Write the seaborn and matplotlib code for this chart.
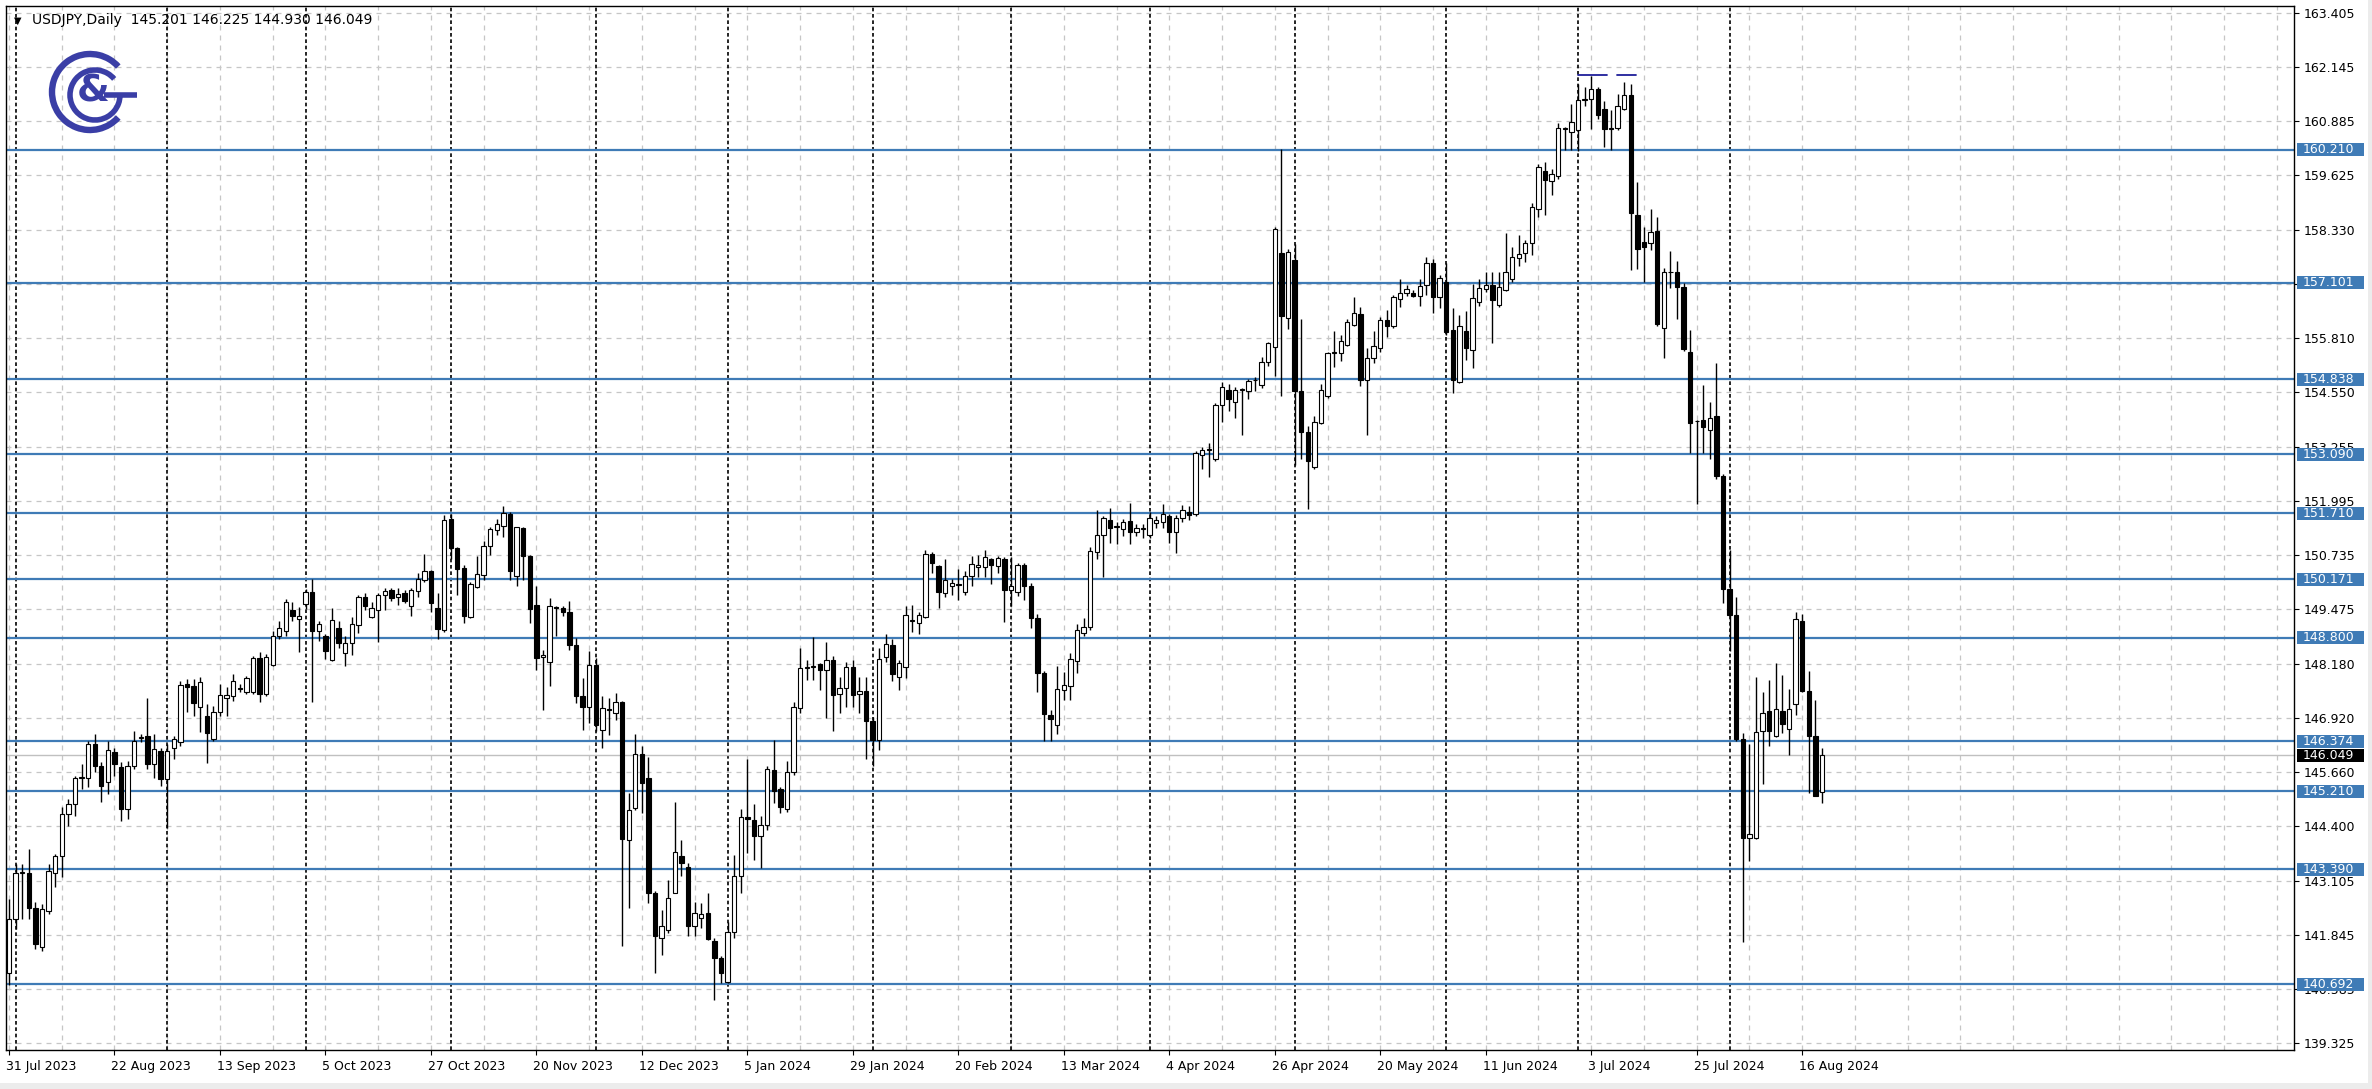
import numpy as np
import pandas as pd
import matplotlib
matplotlib.use("Agg")
import matplotlib.pyplot as plt
import seaborn as sns
from matplotlib.patches import Arc, Rectangle
from matplotlib.transforms import blended_transform_factory, ScaledTranslation

# ---------------- data (USDJPY daily, 31 Jul 2023 .. 21 Aug 2024) ----------------
opens = [140.97,142.22,143.31,143.31,142.49,141.56,142.42,143.31,143.70,144.68,144.91,145.53,145.53,146.31,145.81,145.43,146.12,145.77,144.79,145.81,
146.45,146.51,145.85,146.16,145.49,146.23,146.35,147.72,147.66,147.19,146.98,146.43,147.07,147.38,147.44,147.62,147.54,147.54,148.32,147.48,
148.16,148.83,148.96,149.45,149.24,149.59,149.86,148.96,148.83,148.28,149.02,148.44,148.67,149.10,149.76,149.28,149.45,149.80,149.92,149.75,
149.84,149.53,149.90,150.15,150.35,149.49,148.98,151.57,150.89,150.42,149.29,149.99,150.27,150.95,151.32,151.41,151.70,150.25,151.36,150.70,
149.57,148.36,148.24,149.52,149.49,149.41,148.63,147.43,147.19,148.16,146.65,147.14,147.05,147.29,144.06,144.82,146.09,145.52,142.83,141.78,
141.97,142.84,143.70,143.45,142.05,142.25,142.36,141.70,141.31,140.76,141.93,143.23,144.60,144.53,144.17,144.43,145.71,145.26,144.79,145.65,
147.15,148.09,148.12,148.19,148.05,148.28,147.49,147.62,148.11,147.49,147.56,146.86,146.40,148.36,148.63,147.89,148.12,149.20,149.15,149.28,
150.76,150.48,149.84,150.01,150.05,149.88,150.25,150.45,150.45,150.63,150.47,150.64,149.92,149.88,150.50,150.02,149.26,147.97,146.99,146.75,
147.57,147.68,148.25,148.92,149.04,150.81,151.21,151.55,151.40,151.33,151.52,151.26,151.35,151.21,151.48,151.50,151.65,151.26,151.60,151.74,
151.69,153.08,153.20,152.98,154.25,154.60,154.32,154.58,154.56,154.82,154.70,155.24,155.59,157.80,156.28,157.63,154.56,153.60,152.79,153.81,
154.44,155.45,155.45,155.65,156.11,156.37,154.83,155.34,155.57,156.22,156.09,156.71,156.87,156.85,156.79,157.05,157.57,156.77,157.12,156.00,
154.79,155.98,155.53,156.64,156.95,157.05,156.58,156.94,157.18,157.67,157.79,158.03,158.83,159.71,159.48,159.59,160.70,160.62,160.66,161.38,
161.40,161.63,161.17,160.70,160.72,161.17,161.50,158.68,158.05,158.02,158.30,156.04,157.36,157.34,156.99,155.48,153.87,153.90,153.65,153.99,
152.57,149.94,149.32,146.42,144.12,144.12,146.63,147.09,146.51,147.09,146.67,147.25,149.19,147.56,146.51,145.201]
highs = [142.69,143.51,143.51,143.87,142.61,142.57,143.51,143.74,144.83,145.03,145.57,145.85,146.39,146.55,145.89,146.39,146.23,145.89,145.92,146.62,
146.55,147.40,146.55,146.23,146.31,146.51,147.79,147.83,147.83,147.87,147.25,147.21,147.72,147.64,147.95,147.72,147.91,148.38,148.46,148.42,
148.96,149.20,149.70,149.64,149.51,149.94,150.17,149.20,148.89,149.50,149.18,148.83,149.29,149.80,149.84,149.64,149.84,149.96,149.96,149.96,
149.92,149.96,150.31,150.76,150.39,149.84,151.67,151.69,150.93,150.50,150.11,150.70,151.05,151.38,151.57,151.87,151.75,151.40,151.40,150.74,
150.00,148.52,149.72,149.54,149.53,149.65,148.79,147.85,148.48,148.32,147.43,147.39,147.50,147.31,145.17,146.55,146.26,146.02,142.87,142.44,
143.14,144.97,144.08,143.53,142.61,142.60,142.83,141.78,141.35,142.16,143.72,144.80,145.96,144.92,144.62,145.80,146.40,145.32,145.91,147.29,
148.55,148.28,148.81,148.21,148.69,148.37,147.89,148.24,148.28,147.89,147.89,146.95,148.55,148.88,148.77,148.28,149.53,149.57,149.39,150.86,
150.81,150.50,150.63,150.17,150.40,150.37,150.72,150.74,150.84,150.66,150.72,150.69,150.69,150.55,150.55,150.07,149.35,148.02,147.12,148.14,
147.99,148.45,149.11,149.26,150.93,151.79,151.64,151.84,151.50,151.58,151.96,151.45,151.45,151.74,151.64,151.93,151.69,151.67,151.90,151.88,
153.17,153.27,153.36,154.29,154.77,154.73,154.67,154.63,154.86,154.89,155.37,155.72,158.41,160.23,157.90,158.01,156.26,153.74,153.98,154.73,
155.49,155.96,155.88,156.25,156.77,156.54,155.57,155.96,156.31,156.46,156.81,157.18,157.05,156.93,157.18,157.71,157.65,157.28,157.55,156.50,
156.35,156.43,157.07,157.18,157.36,157.34,157.34,158.27,157.93,158.21,158.11,158.97,159.87,159.92,159.77,160.83,160.75,161.28,161.75,161.67,
161.94,161.67,161.36,161.13,161.51,161.79,161.75,159.45,158.41,158.83,158.64,157.44,157.83,157.61,157.09,156.00,153.90,154.71,154.31,155.23,
152.63,150.84,149.76,146.57,146.32,147.87,147.54,147.81,148.20,147.93,147.59,149.39,149.35,148.03,147.34,146.225]
lows = [140.69,141.99,142.22,142.22,141.52,141.48,142.34,142.96,143.20,144.40,144.64,145.26,145.30,145.65,144.95,145.14,145.57,144.52,144.56,145.73,
146.35,145.73,145.53,145.34,144.36,145.96,146.27,147.07,146.98,146.59,145.87,146.39,146.98,146.98,147.33,147.52,147.48,147.48,147.29,147.44,
148.13,148.77,148.83,149.20,148.47,149.47,147.29,148.73,148.30,148.25,148.55,148.13,148.40,148.91,149.45,149.26,148.71,149.45,149.65,149.57,
149.61,149.30,149.76,150.11,149.41,148.77,148.94,150.63,149.80,149.14,149.26,149.96,150.15,150.74,151.20,151.16,150.15,150.01,150.15,149.14,
148.05,147.11,147.66,148.83,149.30,148.52,147.27,146.65,146.80,146.61,146.22,146.53,146.88,141.58,142.48,144.78,144.70,142.60,140.96,141.39,
141.89,142.83,143.22,141.82,141.82,142.01,141.74,140.34,140.73,140.73,141.78,142.83,143.76,143.61,143.41,144.30,144.93,144.70,144.73,145.59,
147.04,147.81,147.81,147.58,146.92,146.63,147.04,147.19,147.19,147.04,145.96,145.81,146.18,148.24,147.78,147.58,147.85,148.94,148.89,149.26,
150.31,149.49,149.76,149.80,149.68,149.80,150.00,150.23,150.23,150.06,150.31,149.16,149.54,149.78,149.69,149.02,147.54,146.39,146.39,146.56,
147.35,147.35,147.97,148.83,148.97,150.64,150.21,151.02,150.98,151.17,150.98,151.17,151.12,151.12,151.36,151.36,151.02,150.78,151.50,151.55,
151.64,152.74,152.55,152.93,153.84,154.10,153.94,153.55,154.37,154.56,154.65,155.15,154.92,154.46,156.01,152.84,152.98,151.81,152.74,153.79,
154.41,155.14,155.26,155.61,156.08,154.68,153.55,155.22,155.49,155.83,156.04,156.53,156.79,156.76,156.56,156.81,156.39,156.50,155.88,154.52,
154.75,155.30,155.11,156.56,156.89,155.70,156.53,156.91,157.12,157.48,157.59,157.75,158.64,158.68,159.15,159.53,160.21,160.21,160.19,161.24,
160.70,160.93,160.27,160.21,160.68,161.13,157.40,157.41,157.12,157.86,156.08,155.33,156.97,156.25,155.51,153.11,151.92,153.11,152.98,152.50,
149.60,148.49,146.38,141.68,143.57,144.10,145.39,146.26,146.47,146.57,146.05,147.00,147.53,145.18,145.09,144.930]
closes = [142.22,143.31,143.33,142.49,141.64,142.45,143.35,143.70,144.68,144.91,145.53,145.55,146.31,145.81,145.34,146.18,145.85,144.79,145.81,146.39,
146.47,145.85,146.20,145.49,146.16,146.43,147.69,147.64,147.27,147.77,146.57,147.07,147.46,147.46,147.79,147.60,147.85,148.32,147.48,148.36,
148.83,149.02,149.63,149.31,149.30,149.86,148.96,149.12,148.50,149.22,148.67,148.67,149.12,149.76,149.53,149.49,149.80,149.89,149.72,149.83,
149.65,149.92,150.17,150.37,149.61,149.00,151.55,150.89,150.40,149.31,150.06,150.28,150.95,151.34,151.46,151.71,150.37,151.38,150.70,149.47,
148.32,148.40,149.53,149.50,149.39,148.63,147.43,147.19,148.16,146.76,147.15,147.10,147.29,144.09,144.78,146.09,145.40,142.83,141.82,142.05,
142.71,143.78,143.53,142.05,142.36,142.35,141.75,141.31,140.96,141.93,143.23,144.60,144.55,144.17,144.43,145.73,145.21,144.84,145.67,147.17,
148.09,148.12,148.13,148.05,148.28,147.47,147.62,148.11,147.47,147.56,146.86,146.40,148.30,148.66,147.95,148.22,149.33,149.22,149.33,150.76,
150.54,149.88,150.14,150.09,150.03,150.25,150.53,150.51,150.68,150.50,150.66,149.92,150.02,150.50,150.02,149.26,147.97,147.01,146.90,147.59,
147.70,148.30,148.97,149.04,150.83,151.21,151.60,151.36,151.41,151.50,151.26,151.36,151.36,151.60,151.55,151.69,151.26,151.60,151.79,151.67,
153.12,153.20,153.22,154.25,154.67,154.37,154.60,154.61,154.80,154.83,155.24,155.68,158.36,156.32,157.82,154.56,153.60,152.93,153.84,154.60,
155.45,155.47,155.73,156.19,156.39,154.83,155.34,155.62,156.22,156.09,156.76,156.87,156.95,156.80,157.02,157.57,156.76,157.20,155.94,154.83,
156.08,155.57,156.74,156.97,157.05,156.70,156.99,157.36,157.69,157.77,158.03,158.86,159.81,159.49,159.64,160.72,160.72,160.85,161.37,161.40,
161.63,161.01,160.70,160.72,161.24,161.50,158.73,157.88,157.94,158.29,156.13,157.36,157.35,156.99,155.54,153.81,153.86,153.72,153.93,152.57,
149.94,149.32,146.42,144.12,144.21,146.60,147.04,146.63,147.13,146.79,147.13,149.23,147.56,146.51,145.11,146.049]

date_labels = ["31 Jul 2023", "22 Aug 2023", "13 Sep 2023", "5 Oct 2023", "27 Oct 2023", "20 Nov 2023",
               "12 Dec 2023", "5 Jan 2024", "29 Jan 2024", "20 Feb 2024", "13 Mar 2024", "4 Apr 2024",
               "26 Apr 2024", "20 May 2024", "11 Jun 2024", "3 Jul 2024", "25 Jul 2024", "16 Aug 2024"]
date_label_bars = [0, 16, 32, 48, 64, 80, 96, 112, 128, 144, 160, 176, 192, 208, 224, 240, 256, 272]
month_start_bars = [1, 24, 45, 67, 89, 109, 131, 152, 173, 195, 218, 238, 261]
price_ticks = [163.405, 162.145, 160.885, 159.625, 158.330, 157.070, 155.810, 154.550, 153.255, 151.995,
               150.735, 149.475, 148.180, 146.920, 145.660, 144.400, 143.105, 141.845, 140.585, 139.325]
levels = [160.210, 157.101, 154.838, 153.090, 151.710, 150.171, 148.800, 146.374, 145.210, 143.390, 140.692]
top_marks = [(238, 242.4, 161.95), (243.9, 246.8, 161.95)]
last_price = 146.049
header = "USDJPY,Daily  145.201 146.225 144.930 146.049"

# ---------------- figure ----------------
sns.set_theme(style="white")
plt.rcParams['font.family'] = ['DejaVu Sans']

W, H = 2372, 1089
fig = plt.figure(figsize=(W / 100, H / 100), dpi=100)
fig.patch.set_facecolor("white")

L, R, T, B = 6, 2294, 6, 1050
ax = fig.add_axes([L / W, 1 - B / H, (R - L) / W, (B - T) / H])
ax.set_facecolor("white")

df = pd.DataFrame({"open": opens, "high": highs, "low": lows, "close": closes})
df["bar"] = np.arange(len(df))
df["up"] = df["close"] >= df["open"]
df["bottom"] = df[["open", "close"]].min(axis=1)
df["height"] = (df["close"] - df["open"]).abs().clip(lower=0.012)

y_lo, y_hi = 139.16, 163.57
x_lo, x_hi = -0.455, 346.6
ax.set_xlim(x_lo, x_hi)
ax.set_ylim(y_lo, y_hi)

grid_c = "#c6c6c6"
for p in price_ticks:
    ax.axhline(p, color=grid_c, lw=0.9, ls=(0, (4, 4)), zorder=0.5)
for b in range(0, 347, 8):
    ax.axvline(b, color=grid_c, lw=0.9, ls=(0, (4, 4)), zorder=0.5)
for b in month_start_bars:
    ax.axvline(b, color="black", lw=1.2, ls=(0, (2.2, 1.6)), zorder=0.8)

level_c = "#3f7bb6"
for lv in levels:
    ax.axhline(lv, color=level_c, lw=1.6, zorder=1)
ax.axhline(last_price, color="#c0c0c0", lw=1.0, zorder=0.9)

for x0, x1, yv in top_marks:
    ax.plot([x0, x1], [yv, yv], color="#1f1f9a", lw=1.3, zorder=1.2)

# candles
ax.vlines(df["bar"], df["low"], df["high"], color="black", lw=1.0, zorder=2)
ax.bar(df["bar"], df["height"], bottom=df["bottom"], width=0.66,
       color=np.where(df["up"], "white", "black"), edgecolor="black", linewidth=0.8, zorder=3)

for s in ax.spines.values():
    s.set_color("black")
    s.set_linewidth(1.0)
ax.yaxis.tick_right()
ax.set_yticks(price_ticks)
ax.set_yticklabels([f"{p:.3f}" for p in price_ticks])
ax.tick_params(axis="y", which="both", right=True, left=False, length=3.6, width=0.8,
               direction="out", pad=3.5, labelsize=9, colors="black")
ax.set_xticks(date_label_bars)
ax.set_xticklabels(date_labels)
ax.tick_params(axis="x", bottom=True, length=3.6, width=0.8, direction="out",
               pad=3.5, labelsize=9, colors="black")
for lab in ax.get_xticklabels():
    lab.set_horizontalalignment("left")
    lab.set_transform(lab.get_transform() + ScaledTranslation(-3 / 100, 0, fig.dpi_scale_trans))
ax.grid(False)

# level labels on the price axis
tr = blended_transform_factory(fig.transFigure, ax.transData)
box_h = 13 / ((B - T) / (y_hi - y_lo))
for lv in levels:
    ax.add_patch(Rectangle((2297 / W, lv - box_h / 2), 67 / W, box_h, transform=tr,
                           facecolor=level_c, edgecolor="none", clip_on=False, zorder=10))
    ax.text(2303 / W, lv, f"{lv:.3f}", transform=tr, color="white", fontsize=9,
            va="center", ha="left", clip_on=False, zorder=11)
ax.add_patch(Rectangle((2297 / W, last_price - box_h / 2), 67 / W, box_h, transform=tr,
                       facecolor="black", edgecolor="none", clip_on=False, zorder=10))
ax.text(2303 / W, last_price, f"{last_price:.3f}", transform=tr, color="white", fontsize=9,
        va="center", ha="left", clip_on=False, zorder=11)

# header
fig.text(14 / W, 1 - 21 / H, "\u25BC", fontsize=7, va="center", ha="left", color="black")
fig.text(32 / W, 1 - 20 / H, header, fontsize=10, va="center", ha="left", color="black")

# logo
lg = fig.add_axes([40 / W, 1 - 145 / H, 110 / W, 105 / H])
lg.set_xlim(40, 150)
lg.set_ylim(-145, -40)
lg.axis("off")
logo_c = "#3a3ea6"
lg.add_patch(Arc((90, -92), 76, 76, theta1=42, theta2=318, color=logo_c, lw=4.6))
lg.add_patch(Arc((95, -95), 50, 50, theta1=40, theta2=360, color=logo_c, lw=4.0))
lg.plot([104, 137], [-95, -95], color=logo_c, lw=4.0, solid_capstyle="butt")
lg.text(93, -92, "&", fontsize=27, fontweight="bold", color=logo_c, ha="center", va="center")

# window frame strips
fig.patches.append(Rectangle((0, 0), 1, 6 / H, transform=fig.transFigure, facecolor="#ececec",
                             edgecolor="none", zorder=-1))
fig.patches.append(Rectangle((1 - 4 / W, 0), 4 / W, 1, transform=fig.transFigure, facecolor="#ececec",
                             edgecolor="none", zorder=-1))

fig.savefig("out.png", dpi=100)
